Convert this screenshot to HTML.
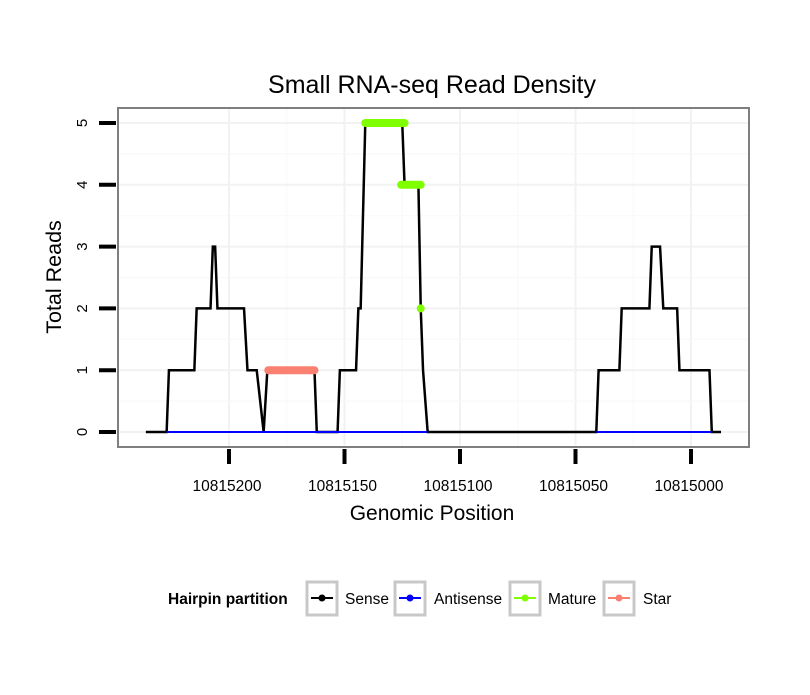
<!DOCTYPE html>
<html><head><meta charset="utf-8"><style>
body{margin:0;background:#fff}
text{font-family:"Liberation Sans",sans-serif}
</style></head><body>
<svg id="c" width="810" height="690" xmlns="http://www.w3.org/2000/svg">
<rect width="810" height="690" fill="#fff"/>
<text x="432" y="93" text-anchor="middle" font-size="25">Small RNA-seq Read Density</text>
<g id="grid"></g>
<g id="series"></g>
<rect x="118" y="108" width="631" height="339" fill="none" stroke="#7f7f7f" stroke-width="2"/>
<g id="axes"></g>
<text x="432" y="520" text-anchor="middle" font-size="21">Genomic Position</text>
<text transform="translate(61,277) rotate(-90)" text-anchor="middle" font-size="21.5">Total Reads</text>
<g>
<text x="168" y="604" font-size="15.5" font-weight="bold">Hairpin partition</text>
<g id="legend"></g>
</g>
</svg>
<script>
const xTicks=[10815200,10815150,10815100,10815050,10815000];
const yTicks=[0,1,2,3,4,5];
const sensePos=[10815236,10815227,10815226,10815215,10815214,10815208,10815207,10815206,10815205,10815193.5,10815192,10815188,10815185,10815183.4,10815163,10815162,10815153,10815152,10815145,10815144,10815143,10815141,10815125,10815124,10815118,10815117,10815116,10815114,10815041,10815040,10815031,10815030,10815018,10815017,10815013.4,10815012,10815006,10815005,10814992,10814991,10814987];
const senseVal=[0,0,1,1,2,2,3,3,2,2,1,1,0,1,1,0,0,1,1,2,2,5,5,4,4,2,1,0,0,1,1,2,2,3,3,2,2,1,1,0,0];
const antiPos1=[10815227,10815114];
const antiPos2=[10815041,10814991];
const maturePos5=[10815141,10815124];
const maturePos4=[10815125.5,10815117];
const matureSingle=[10815117];
const matureSingleVal=[2];
const starPos=[10815183,10815163];
const legendLabels=["Sense","Antisense","Mature","Star"];
const legendColors=["#000000","#0000ff","#7fff00","#fa8072"];

const NS="http://www.w3.org/2000/svg";
const X=p=>229+(10815200-p)*2.31;
const Y=v=>432-v*61.8;
function mk(tag,attrs,parent){const e=document.createElementNS(NS,tag);for(const k in attrs)e.setAttribute(k,attrs[k]);parent.appendChild(e);return e;}
const grid=document.getElementById('grid'),ser=document.getElementById('series'),axes=document.getElementById('axes'),leg=document.getElementById('legend');

for(let i=0;i<xTicks.length;i++){
  const l=mk('line',{x1:X(xTicks[i]),x2:X(xTicks[i]),y1:108,y2:447,stroke:'#f2f2f2','stroke-width':2},grid);
  
  
  if(i<xTicks.length-1){const m=(xTicks[i]+xTicks[i+1])/2;
    const l2=mk('line',{x1:X(m),x2:X(m),y1:108,y2:447,stroke:'#f8f8f8','stroke-width':1},grid);
    
    }
}
for(let i=0;i<yTicks.length;i++){
  const l=mk('line',{x1:118,x2:749,y1:Y(yTicks[i]),y2:Y(yTicks[i]),stroke:'#f2f2f2','stroke-width':2},grid);
  
  
  if(i<yTicks.length-1){const m=yTicks[i]+0.5;
    const l2=mk('line',{x1:118,x2:749,y1:Y(m),y2:Y(m),stroke:'#f8f8f8','stroke-width':1},grid);
    
    }
}
xTicks.forEach(t=>{
  const l=mk('line',{x1:X(t),x2:X(t),y1:449,y2:464,stroke:'#000','stroke-width':4},axes);
  
  
  const tx=mk('text',{x:X(t)-2,y:491,'text-anchor':'middle','font-size':15.5},axes);
  tx.textContent=t;
  
  
});
yTicks.forEach(t=>{
  const l=mk('line',{x1:99,x2:116,y1:Y(t),y2:Y(t),stroke:'#000','stroke-width':4},axes);
  
  
  const tx=mk('text',{transform:`translate(87,${Y(t)}) rotate(-90)`,'text-anchor':'middle','font-size':15},axes);
  tx.textContent=t;
  
  
});
const sp=mk('polyline',{points:sensePos.map((p,i)=>X(p)+','+Y(senseVal[i])).join(' '),fill:'none',stroke:'#000','stroke-width':2.5},ser);


[antiPos1,antiPos2].forEach(a=>{
  const l=mk('line',{x1:X(a[0]),x2:X(a[1]),y1:Y(0),y2:Y(0),stroke:'#0000ff','stroke-width':2},ser);
  
  
});
function seg(a,v,c,name){
  const l=mk('line',{x1:X(a[0]),x2:X(a[1]),y1:Y(v),y2:Y(v),stroke:c,'stroke-width':8,'stroke-linecap':'round'},ser);
  
  
}
seg(starPos,1,'#fa8072','star-segment');
seg(maturePos5,5,'#7fff00','mature-segment-5');
seg(maturePos4,4,'#7fff00','mature-segment-4');
matureSingle.forEach((p,i)=>{
  const c=mk('circle',{cx:X(p),cy:Y(matureSingleVal[i]),r:4,fill:'#7fff00'},ser);
  
  
});
const boxX=[307,395,510,604],labX=[345,434,548,643];
legendLabels.forEach((lab,i)=>{
  const r=mk('rect',{x:boxX[i],y:582,width:30,height:33,fill:'#fff',stroke:'#c8c8c8','stroke-width':3},leg);
  
  
  const l=mk('line',{x1:boxX[i]+4,x2:boxX[i]+26,y1:598,y2:598,stroke:legendColors[i],'stroke-width':2},leg);
  
  
  const c=mk('circle',{cx:boxX[i]+15,cy:598,r:3.5,fill:legendColors[i]},leg);
  
  
  const t=mk('text',{x:labX[i],y:604,'font-size':15.5},leg);
  t.textContent=lab;
  
  
});
</script>
</body></html>
